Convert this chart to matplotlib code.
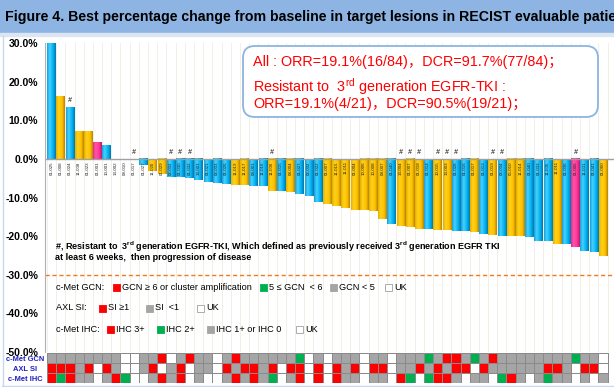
import numpy as np
import matplotlib.pyplot as plt
from matplotlib.colors import LinearSegmentedColormap, ListedColormap
from matplotlib.patches import Rectangle, FancyBboxPatch

plt.rcParams['font.family'] = ['Liberation Sans', 'Noto Sans CJK SC', 'DejaVu Sans']
plt.rcParams['mathtext.fontset'] = 'custom'
plt.rcParams['mathtext.rm'] = 'Liberation Sans'
plt.rcParams['mathtext.bf'] = 'Liberation Sans:bold'

# best % change per patient (sorted waterfall)
change = [30.0, 16.3, 13.4, 7.2, 7.1, 4.3, 3.4, 0, 0, 0,
          -1.6, -3.0, -3.9, -4.6, -4.8, -5.0, -5.5, -5.9, -6.3, -6.4,
          -6.7, -6.8, -6.9, -7.1, -8.4, -8.4, -8.6, -9.1, -9.5, -11.2,
          -11.7, -12.1, -12.7, -13.2, -13.3, -13.5, -15.7, -16.9, -17.3, -17.7,
          -18.1, -18.1, -18.4, -18.4, -18.6, -18.8, -19.0, -19.4, -19.6, -19.9,
          -20.1, -20.1, -20.3, -21.2, -21.4, -22.0, -22.0, -22.9, -23.8, -24.2,
          -25.1]
# B = blue, Y = yellow, P = pink
bar_group = list("BYBYYPBBBB" "BYYBBBBBBB" "YYBBYBYBBB" "YYYYYYYBYY"
                 "YBYYBBYBYB" "YYBBBYBPBB" "Y")
resistant = [2, 9, 13, 14, 15, 24, 38, 39, 40, 42, 43, 44, 48, 49, 57]
patients = ["01-025", "01-008", "01-024", "11-008", "01-023", "01-001", "10-001", "13-002", "09-010", "01-017",
            "01-027", "11-020", "01-029", "02-002", "01-030", "01-032", "13-001", "01-021", "02-003", "01-026",
            "11-019", "11-017", "09-001", "11-016", "11-006", "01-015", "09-004", "01-027", "02-002", "01-022",
            "01-007", "11-015", "11-011", "01-004", "10-006", "10-008", "09-007", "01-040", "13-004", "01-007",
            "01-018", "01-014", "10-015", "13-003", "01-028", "01-016", "01-017", "01-013", "01-019", "02-004",
            "05-010", "11-014", "01-040", "01-033", "11-005", "11-011", "01-036", "01-006", "11-001", "01-041",
            "01-060"]

# biomarker rows: R = red, G = green, S = grey, W = white (UK)
gcn = list("SSSSSSSS" "WWSSRWSRSS" "WSRSSSSSSGWSWSSSWSSWS" "SSGSRRSGSR" "SSSSSSSS" "GSSW")
axl = list("RRRSRWRSWWSRWSRWSS" "WRSRRSRWRRWRWRSRWRRWS" "SRSRSRRWRSSSSSSRRSWRRW")
ihc = list("RGRSSWSRGWWSRSRWSW" "WSRSRSGWSRWRWRSSWSSW" "RGWGRRSWSSWGRSWSGSSWSWS")
row_names = ["c-Met GCN", "AXL SI", "c-Met IHC"]

W, H = 614, 387
fig = plt.figure(figsize=(W / 100, H / 100), dpi=100)

def px(x0, y0, x1, y1):
    return [x0 / W, 1 - y1 / H, (x1 - x0) / W, (y1 - y0) / H]

xl = (-0.71, 61.2)
ax = fig.add_axes(px(45, 43.3, 614, 351.7))
ax.set_xlim(*xl)
ax.set_ylim(-50, 30)

for i in range(len(change) + 1):
    ax.axvline(i - 0.5, color='#EFECE2', lw=0.6, zorder=0)

cmaps = {
    'B': LinearSegmentedColormap.from_list('b', [(0, '#1A9FD8'), (0.3, '#45D2FF'), (0.7, '#00B0F0'), (1, '#0079B0')]),
    'Y': LinearSegmentedColormap.from_list('y', [(0, '#E5AE00'), (0.3, '#FFD21A'), (0.7, '#FFC000'), (1, '#B58600')]),
    'P': LinearSegmentedColormap.from_list('p', [(0, '#E82A88'), (0.3, '#FF55AA'), (0.7, '#FF3399'), (1, '#B81E6C')]),
}
grad = np.linspace(0, 1, 32).reshape(1, -1)
bw = 0.92
for i, (v, g) in enumerate(zip(change, bar_group)):
    if v == 0:
        continue
    ax.imshow(grad, cmap=cmaps[g], aspect='auto', zorder=2,
              extent=[i - bw / 2, i + bw / 2, min(v, 0), max(v, 0)])

for i, name in enumerate(patients):
    ax.text(i, -0.6, name, rotation=90, ha='center', va='top', fontsize=3.2, color='#222222', zorder=3)

for i in resistant:
    ax.text(i, max(change[i], 0) + 0.8, '#', ha='center', va='bottom', fontsize=5, style='italic', zorder=3)

ax.axhline(0, color='#A0A0A0', lw=1, zorder=2.5)
ax.axhline(-30, color='#F07A1E', lw=1, ls=(0, (3, 2)), zorder=2.5)
ax.set_xlim(*xl)
ax.set_ylim(-50, 30)
ax.set_yticks(range(-50, 31, 10))
ax.set_yticklabels(['%.1f%%' % t for t in range(-50, 31, 10)], fontsize=7.5, fontweight='bold')
ax.tick_params(axis='y', length=0, pad=5)
ax.set_xticks([])
for s in ['top', 'right', 'bottom']:
    ax.spines[s].set_visible(False)
ax.spines['left'].set_color('#B0B0B0')
ax.patch.set_alpha(0)

# biomarker strip
hx = fig.add_axes(px(45, 353, 614, 383))
code = {'R': 0, 'G': 1, 'S': 2, 'W': 3}
grid = np.array([[code[c] for c in row] for row in (gcn, axl, ihc)])
hx.pcolormesh(np.arange(len(change) + 1) - 0.5, np.arange(4), grid,
              cmap=ListedColormap(['#FF0000', '#00B050', '#A5A5A5', '#FFFFFF']),
              vmin=-0.5, vmax=3.5, edgecolors='#8A8A8A', linewidth=0.7)
hx.set_xlim(*xl)
hx.set_ylim(3, 0)
hx.axis('off')

# annotation layer in pixel coordinates
ov = fig.add_axes([0, 0, 1, 1], zorder=5)
ov.set_xlim(0, W)
ov.set_ylim(H, 0)
ov.axis('off')

ov.add_patch(Rectangle((0, 0), W, 33, color='#8DB4E2', zorder=1))
ov.add_patch(Rectangle((0, 33), W, 3, color='#DCE6F2', zorder=1))
ov.text(5, 17, 'Figure 4. Best percentage change from baseline in target lesions in RECIST evaluable patients',
        fontsize=10.2, fontweight='bold', va='center', ha='left', zorder=2)
ov.plot([2.5, 2.5], [36, 385], color='#C5D9F1', lw=1)
ov.plot([2, W], [385.5, 385.5], color='#C5D9F1', lw=1)

ov.add_patch(FancyBboxPatch((243, 46), 355, 71, boxstyle='round,pad=0,rounding_size=12',
                            facecolor='white', edgecolor='#8DB4E2', lw=1.3, zorder=1))
red = '#FF0000'
ov.text(253, 62, 'All : ORR=19.1%(16/84)，DCR=91.7%(77/84)；', color=red, fontsize=10.4, va='center', zorder=2)
ov.text(253, 86.5, r'Resistant to  3$^{\mathrm{rd}}$ generation EGFR-TKI :', color=red, fontsize=10.4, va='center', zorder=2)
ov.text(253, 104, 'ORR=19.1%(4/21)，DCR=90.5%(19/21)；', color=red, fontsize=10.4, va='center', zorder=2)

ov.text(55, 247, r'#, Resistant to  3$^{\mathbf{rd}}$ generation EGFR-TKI, Which defined as previously received 3$^{\mathbf{rd}}$ generation EGFR TKI',
        fontsize=6.5, fontweight='bold', va='center')
ov.text(55, 258, 'at least 6 weeks,  then progression of disease', fontsize=6.5, fontweight='bold', va='center')

sw = {'R': '#FF0000', 'G': '#00B050', 'S': '#A5A5A5', 'W': '#FFFFFF'}
legend_rows = [
    (287, 'c-Met GCN:', [(113, 'R', 'GCN ≥ 6 or cluster amplification'), (260, 'G', '5 ≤ GCN  < 6'),
                          (330, 'S', 'GCN < 5'), (385, 'W', 'UK')]),
    (308, 'AXL SI:', [(99, 'R', 'SI ≥1'), (146, 'S', 'SI  <1'), (197, 'W', 'UK')]),
    (329, 'c-Met IHC:', [(107, 'R', 'IHC 3+'), (157, 'G', 'IHC 2+'), (207, 'S', 'IHC 1+ or IHC 0'), (296, 'W', 'UK')]),
]
for y, title, items in legend_rows:
    ov.text(56, y, title, fontsize=6.6, va='center')
    for x, c, lab in items:
        ov.add_patch(Rectangle((x, y - 3.5), 7, 7, facecolor=sw[c],
                               edgecolor='#A0A0A0' if c == 'W' else sw[c], lw=0.6))
        ov.text(x + 9, y, lab, fontsize=6.6, va='center')

for k, name in enumerate(row_names):
    ov.text(25, 359.5 + 10 * k, name, color='#2020C0', fontsize=5.4, fontweight='bold', ha='center', va='center')

fig.savefig('out.png', dpi=100)
